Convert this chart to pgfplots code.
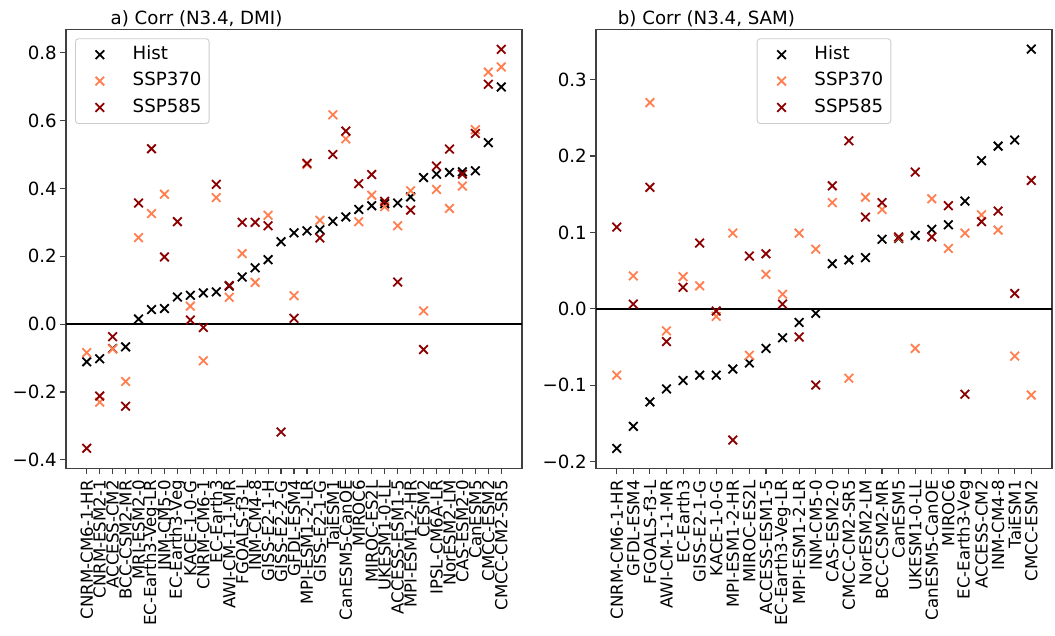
\documentclass[border=0pt]{standalone}
\usepackage{fontspec}
\setmainfont{DejaVu Sans}
\usepackage{pgfplots}
\usepackage{pgfplotstable}
\pgfplotsset{compat=1.18}

\definecolor{c370}{RGB}{255,127,80}
\definecolor{c585}{RGB}{139,0,0}

\pgfplotstableread{
i hist s370 s585
0 -0.111 -0.084 -0.366
1 -0.102 -0.230 -0.212
2 -0.072 -0.073 -0.037
3 -0.067 -0.169 -0.242
4 0.015 0.255 0.357
5 0.043 0.326 0.517
6 0.046 0.383 0.198
7 0.080 nan 0.302
8 0.085 0.053 0.012
9 0.092 -0.108 -0.010
10 0.095 0.373 0.412
11 0.112 0.079 0.114
12 0.139 0.208 0.300
13 0.166 0.123 0.300
14 0.190 0.321 0.290
15 0.243 nan -0.318
16 0.269 0.084 0.017
17 0.275 0.471 0.474
18 0.278 0.306 0.254
19 0.303 0.617 0.500
20 0.316 0.546 0.569
21 0.338 0.302 0.414
22 0.349 0.380 0.441
23 0.355 0.346 0.362
24 0.357 0.290 0.124
25 0.375 0.393 0.336
26 0.432 0.039 -0.075
27 0.442 0.397 0.466
28 0.447 0.341 0.516
29 0.449 0.407 0.442
30 0.452 0.573 0.562
31 0.535 0.743 0.707
32 0.699 0.758 0.810
}\dmi

\pgfplotstableread{
i hist s370 s585
0 -0.183 -0.087 0.107
1 -0.154 0.043 0.006
2 -0.122 0.270 0.159
3 -0.105 -0.029 -0.043
4 -0.094 0.042 0.028
5 -0.087 0.030 0.086
6 -0.087 -0.010 -0.003
7 -0.079 0.099 -0.172
8 -0.071 -0.061 0.069
9 -0.052 0.045 0.072
10 -0.038 0.019 0.006
11 -0.018 0.099 -0.037
12 -0.006 0.078 -0.100
13 0.059 0.139 0.161
14 0.064 -0.091 0.220
15 0.067 0.146 0.120
16 0.091 0.130 0.139
17 0.092 0.093 0.094
18 0.096 -0.052 0.179
19 0.104 0.144 0.094
20 0.110 0.079 0.135
21 0.141 0.099 -0.112
22 0.194 0.123 0.114
23 0.213 0.103 0.128
24 0.221 -0.062 0.020
25 0.340 -0.113 0.168
}\sam

\newcommand{\bigf}{\fontsize{18.2}{20}\selectfont}
\newcommand{\smallf}{\fontsize{16.6}{18}\selectfont}

\pgfplotsset{
  panel/.style={
    scale only axis, width=456pt, height=439pt,
    axis line style={black!75, line width=1.1pt},
    tick style={black!75, line width=1.1pt},
    tick align=outside, major tick length=5.7pt,
    xtick pos=bottom, ytick pos=left,
    xticklabel style={rotate=90, anchor=east, font=\smallf, inner sep=0pt, xshift=-6pt},
    yticklabel style={font=\bigf},
    legend cell align=left,
    legend style={draw=black!20, line width=0.9pt, rounded corners=3pt,
      fill=white, fill opacity=0.8, text opacity=1, font=\bigf,
      inner xsep=6pt, inner ysep=6pt, row sep=6.5pt,
      nodes={inner sep=1.5pt, text height=13.3pt, text depth=3.6pt}},
  },
  myx/.style={only marks, mark=x, mark size=6.1pt, line width=1.8pt,
    legend image code/.code={\path (0pt,0pt) (48pt,0pt); \draw[##1, only marks] plot coordinates {(17.5pt,0pt)};}},
}

\begin{document}
\begin{tikzpicture}
\begin{axis}[panel,
  at={(66pt,-468.3pt)}, anchor=south west,
  xmin=-1.6, xmax=33.6, ymin=-0.425, ymax=0.869,
  xtick={0,...,32},
  xticklabels={CNRM-CM6-1-HR,CNRM-ESM2-1,ACCESS-CM2,BCC-CSM2-MR,MRI-ESM2-0,EC-Earth3-Veg-LR,INM-CM5-0,EC-Earth3-Veg,KACE-1-0-G,CNRM-CM6-1,EC-Earth3,AWI-CM-1-1-MR,FGOALS-f3-L,INM-CM4-8,GISS-E2-1-H,GISS-E2-2-G,GFDL-ESM4,MPI-ESM1-2-LR,GISS-E2-1-G,TaiESM1,CanESM5-CanOE,MIROC6,MIROC-ES2L,UKESM1-0-LL,ACCESS-ESM1-5,MPI-ESM1-2-HR,CESM2,IPSL-CM6A-LR,NorESM2-LM,CAS-ESM2-0,CanESM5,CMCC-ESM2,CMCC-CM2-SR5},
  ytick={-0.4,-0.2,0,0.2,0.4,0.6,0.8},
  yticklabels={−0.4,−0.2,0.0,0.2,0.4,0.6,0.8},
  legend style={at={(0,1)}, anchor=north west, xshift=9pt, yshift=-9pt},
]
\addplot[black, line width=1.8pt, no marks, sharp plot, forget plot] coordinates {(-1.6,0) (33.6,0)};
\addplot[myx, color=black] table[x=i, y=hist] {\dmi};
\addlegendentry{Hist}
\addplot[myx, color=c370] table[x=i, y=s370] {\dmi};
\addlegendentry{SSP370}
\addplot[myx, color=c585] table[x=i, y=s585] {\dmi};
\addlegendentry{SSP585}
\end{axis}

\begin{axis}[panel,
  at={(596pt,-468.3pt)}, anchor=south west,
  xmin=-1.25, xmax=26.25, ymin=-0.209, ymax=0.366,
  xtick={0,...,25},
  xticklabels={CNRM-CM6-1-HR,GFDL-ESM4,FGOALS-f3-L,AWI-CM-1-1-MR,EC-Earth3,GISS-E2-1-G,KACE-1-0-G,MPI-ESM1-2-HR,MIROC-ES2L,ACCESS-ESM1-5,EC-Earth3-Veg-LR,MPI-ESM1-2-LR,INM-CM5-0,CAS-ESM2-0,CMCC-CM2-SR5,NorESM2-LM,BCC-CSM2-MR,CanESM5,UKESM1-0-LL,CanESM5-CanOE,MIROC6,EC-Earth3-Veg,ACCESS-CM2,INM-CM4-8,TaiESM1,CMCC-ESM2},
  ytick={-0.2,-0.1,0,0.1,0.2,0.3},
  yticklabels={−0.2,−0.1,0.0,0.1,0.2,0.3},
  legend style={at={(0.5,1)}, anchor=north, yshift=-9pt},
]
\addplot[black, line width=1.8pt, no marks, sharp plot, forget plot] coordinates {(-1.25,0) (26.25,0)};
\addplot[myx, color=black] table[x=i, y=hist] {\sam};
\addlegendentry{Hist}
\addplot[myx, color=c370] table[x=i, y=s370] {\sam};
\addlegendentry{SSP370}
\addplot[myx, color=c585] table[x=i, y=s585] {\sam};
\addlegendentry{SSP585}
\end{axis}

\node[anchor=base west, inner sep=0pt, font=\bigf] at (110.5pt,-24pt) {a) Corr (N3.4, DMI)};
\node[anchor=base west, inner sep=0pt, font=\bigf] at (617.7pt,-24pt) {b) Corr (N3.4, SAM)};

\pgfresetboundingbox
\useasboundingbox (0pt,0pt) rectangle (1055pt,-635pt);
\end{tikzpicture}
\end{document}
